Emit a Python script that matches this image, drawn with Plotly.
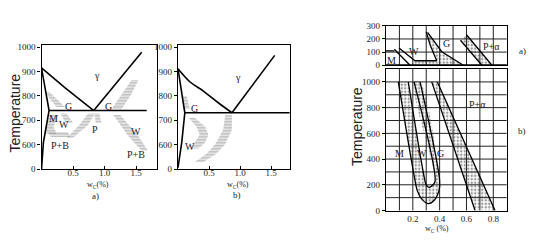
import plotly.graph_objects as go

W, H = 550, 252

# ---------------- panel a) data ----------------
a_A3_x = [0.0, 0.38, 0.83]
a_A3_y = [915, 832, 740]
a_Acm_x = [0.83, 1.59]
a_Acm_y = [740, 979]
a_A1_x = [0.12, 1.67]
a_A1_y = [740, 740]
a_left_x = [0.0, 0.12, 0.03, 0.0]
a_left_y = [915, 740, 609, 500]

# hatched bands: y levels, left edge x, right edge x
a_bands = [
    ([815, 785, 755], [0.06, 0.14, 0.24], [0.13, 0.25, 0.37]),
    ([865, 805, 745], [1.43, 1.27, 1.11], [1.54, 1.42, 1.27]),
    ([728, 681, 629], [0.74, 0.60, 0.40], [0.85, 0.74, 0.50]),
    ([722, 674, 645], [0.14, 0.06, 0.08], [0.27, 0.19, 0.24]),
    ([652, 632], [0.10, 0.15], [0.42, 0.45]),
    ([728, 690], [0.30, 0.38], [0.40, 0.50]),
    ([722, 635, 576], [1.14, 1.38, 1.59], [1.25, 1.54, 1.69]),
    ([728, 690], [0.84, 0.86], [0.92, 0.95]),
]
a_labels = [("γ", 0.88, 884), ("G", 0.43, 757), ("G", 1.06, 757), ("M", 0.19, 707),
            ("W", 0.35, 684), ("P", 0.85, 661), ("W", 1.5, 655), ("P+B", 0.29, 598),
            ("P+B", 1.5, 559)]

# ---------------- panel b) data ----------------
b_A3_x = [0.0, 0.19, 0.41, 0.65, 0.87]
b_A3_y = [911, 858, 820, 772, 731]
b_Acm_x = [0.87, 1.56]
b_Acm_y = [731, 966]
b_A1_x = [0.11, 1.8]
b_A1_y = [731, 731]
b_left_x = [0.0, 0.11, 0.06, 0.0]
b_left_y = [911, 731, 609, 506]
b_bands = [
    ([800, 746], [0.06, 0.085], [0.14, 0.19]),
    ([711, 674, 641, 609, 585], [0.17, 0.30, 0.35, 0.27, 0.19], [0.27, 0.44, 0.49, 0.44, 0.33]),
    ([722, 661, 602, 563, 530], [0.76, 0.73, 0.60, 0.46, 0.27], [0.87, 0.87, 0.76, 0.62, 0.41]),
]
b_labels = [("γ", 0.96, 877), ("G", 0.27, 750), ("W", 0.19, 593)]

# temperature ticks for a) and b) (broken axis: bottom is labelled 0)
ab_tickvals = [500, 600, 700, 800, 900, 1000]
ab_ticktext = ["0", "600", "700", "800", "900", "1000"]
ab_xticks = [0.5, 1.0, 1.5]
ab_xticktext = ["0.5", "1.0", "1.5"]

# ---------------- right panel data ----------------
t_Mtop_x = [0.0, 0.062]
t_Mtop_y = [110, 110]
t_D1_x = [0.062, 0.179]
t_D1_y = [122, 0]
t_D2_x = [0.097, 0.216, 0.378]
t_D2_y = [132, 34, 34]
t_Gl_x = [0.30, 0.33, 0.378]
t_Gl_y = [254, 152, 34]
t_Gr_x = [0.31, 0.416, 0.577]
t_Gr_y = [250, 103, 0]
t_Pl_x = [0.555, 0.715]
t_Pl_y = [190, 0]
t_Pr_x = [0.60, 0.79]
t_Pr_y = [232, 0]
t_labels = [("M", 0.043, 34), ("W", 0.21, 103), ("G", 0.45, 164), ("P+α", 0.79, 140)]

u_out_x = [0.092, 0.21, 0.235, 0.27, 0.316, 0.36, 0.395, 0.40, 0.254]
u_out_y = [1000, 270, 150, 85, 54, 80, 154, 230, 1000]
u_in_x = [0.166, 0.285, 0.30, 0.323, 0.35, 0.366, 0.209]
u_in_y = [1000, 260, 200, 179, 200, 229, 1000]
r_l_x = [0.341, 0.664]
r_l_y = [1000, 0]
r_r_x = [0.383, 0.813]
r_r_y = [1000, 0]
u_labels = [("M", 0.104, 440), ("W", 0.266, 440), ("G", 0.41, 440), ("P+α", 0.68, 826)]

fig = go.Figure()

def px_x(p):
    return p / W

def px_y(p):
    return 1 - p / H

HATCH = dict(shape="-", size=3, solidity=0.6, fgcolor="#6e6e6e", bgcolor="rgba(0,0,0,0)")
DOTS = dict(shape=".", size=3.5, solidity=0.4, fgcolor="#333", bgcolor="rgba(0,0,0,0)")

def line(x, y, xa, ya, shape="linear", w=1.6):
    fig.add_trace(go.Scatter(x=x, y=y, mode="lines", xaxis=xa, yaxis=ya,
                             line=dict(color="black", width=w, shape=shape),
                             showlegend=False, hoverinfo="skip"))

def band(ys, xl, xr, xa, ya):
    x = list(xl) + list(xr)[::-1] + [xl[0]]
    y = list(ys) + list(ys)[::-1] + [ys[0]]
    fig.add_trace(go.Scatter(x=x, y=y, mode="lines", fill="toself", xaxis=xa, yaxis=ya,
                             line=dict(width=0, color="rgba(0,0,0,0)"),
                             fillcolor="rgba(0,0,0,0)", fillpattern=HATCH,
                             showlegend=False, hoverinfo="skip"))

def dotted(x, y, xa, ya, shape="linear"):
    fig.add_trace(go.Scatter(x=x, y=y, mode="lines", fill="toself", xaxis=xa, yaxis=ya,
                             line=dict(width=0, color="rgba(0,0,0,0)", shape=shape),
                             fillcolor="rgba(0,0,0,0)", fillpattern=DOTS,
                             showlegend=False, hoverinfo="skip"))

# panel a
for ys, xl, xr in a_bands:
    band(ys, xl, xr, "x", "y")
line(a_A3_x, a_A3_y, "x", "y")
line(a_Acm_x, a_Acm_y, "x", "y")
line(a_A1_x, a_A1_y, "x", "y")
line(a_left_x, a_left_y, "x", "y")

# panel b
for ys, xl, xr in b_bands:
    band(ys, xl, xr, "x2", "y2")
line(b_A3_x, b_A3_y, "x2", "y2", shape="spline")
line(b_Acm_x, b_Acm_y, "x2", "y2")
line(b_A1_x, b_A1_y, "x2", "y2")
line(b_left_x, b_left_y, "x2", "y2")

# right top: one dotted region from the M/W lines to the G lines, one for P+alpha
dotted([t_D1_x[1]] + t_D2_x[1:] + t_Gl_x[::-1] + t_Gr_x,
       [t_D1_y[1]] + t_D2_y[1:] + t_Gl_y[::-1] + t_Gr_y, "x3", "y3")
dotted(t_Pl_x + t_Pr_x[::-1], t_Pl_y + t_Pr_y[::-1], "x3", "y3")
for xs, ys in [(t_Mtop_x, t_Mtop_y), (t_D1_x, t_D1_y), (t_D2_x, t_D2_y), (t_Gl_x, t_Gl_y),
               (t_Gr_x, t_Gr_y), (t_Pl_x, t_Pl_y), (t_Pr_x, t_Pr_y)]:
    line(xs, ys, "x3", "y3", w=1.3)

# right bottom
dotted(u_out_x + u_in_x[::-1], u_out_y + u_in_y[::-1], "x4", "y4", shape="spline")
dotted(r_l_x + r_r_x[::-1], r_l_y + r_r_y[::-1], "x4", "y4")
line(u_out_x, u_out_y, "x4", "y4", shape="spline", w=1.3)
line(u_in_x, u_in_y, "x4", "y4", shape="spline", w=1.3)
line(r_l_x, r_l_y, "x4", "y4", w=1.3)
line(r_r_x, r_r_y, "x4", "y4", w=1.3)

SERIF = "Liberation Serif, Times New Roman, serif"
TICKF = dict(family=SERIF, size=9, color="#222")
LABF = dict(family=SERIF, size=10, color="#222")

ann = []
for ref, labels in [(("x", "y"), a_labels), (("x2", "y2"), b_labels),
                    (("x3", "y3"), t_labels), (("x4", "y4"), u_labels)]:
    for t, x, y in labels:
        ann.append(dict(text=t, x=x, y=y, xref=ref[0], yref=ref[1], showarrow=False, font=LABF))

def paper_text(t, x, y, size=9, angle=0, family=SERIF):
    ann.append(dict(text=t, x=px_x(x), y=px_y(y), xref="paper", yref="paper", showarrow=False,
                    textangle=angle, xanchor="center", yanchor="middle",
                    font=dict(family=family, size=size, color="#222")))

SANS = "Liberation Sans, Arial, sans-serif"
paper_text("Temperature", 15, 113, size=14, angle=-90, family=SANS)
paper_text("Temperature", 357, 127, size=14, angle=-90, family=SANS)
paper_text("w<sub>C</sub>(%)", 98, 187, size=8)
paper_text("w<sub>C</sub>(%)", 238, 187, size=8)
paper_text("w<sub>C</sub> (%)", 437, 233, size=8)
paper_text("a)", 95, 199)
paper_text("b)", 237, 198)
paper_text("a)", 522, 48)
paper_text("b)", 522, 131)

AXC = dict(showline=True, linecolor="black", linewidth=1.3, mirror=True, showgrid=False,
           zeroline=False, tickfont=TICKF, ticklen=3, tickcolor="black", fixedrange=True)

layout = dict(
    width=W, height=H, margin=dict(l=0, r=0, t=0, b=0),
    paper_bgcolor="white", plot_bgcolor="white", showlegend=False,
    annotations=ann,
    xaxis=dict(**AXC, domain=[px_x(41.5), px_x(157)], range=[0, (157 - 41.5) / 63], anchor="y",
               tickvals=ab_xticks, ticktext=ab_xticktext, ticks="inside", ticklabelstandoff=-5),
    yaxis=dict(**AXC, domain=[px_y(171), px_y(42)], range=[500, 1007], anchor="x",
               tickvals=ab_tickvals, ticktext=ab_ticktext, ticks="outside"),
    xaxis2=dict(**AXC, domain=[px_x(178), px_x(290)], range=[0, (290 - 178) / 62], anchor="y2",
                tickvals=ab_xticks, ticktext=ab_xticktext, ticks="inside", ticklabelstandoff=-5),
    yaxis2=dict(**AXC, domain=[px_y(171), px_y(42)], range=[500, 1007], anchor="x2",
                tickvals=ab_tickvals, ticktext=ab_ticktext, ticks="outside"),
    xaxis3=dict(**AXC, domain=[px_x(386), px_x(506.7)], range=[0, 0.9], anchor="y3",
                showticklabels=False, ticks=""),
    yaxis3=dict(**AXC, domain=[px_y(62.7), px_y(21.7)], range=[0, 300], anchor="x3",
                tickvals=[0, 100, 200, 300], ticks="outside"),
    xaxis4=dict(**AXC, domain=[px_x(386), px_x(506.7)], range=[0, 0.9], anchor="y4",
                tickvals=[0.2, 0.4, 0.6, 0.8], ticktext=["0.2", "0.4", "0.6", "0.8"], ticks=""),
    yaxis4=dict(**AXC, domain=[px_y(214), px_y(66.7)], range=[0, 1100], anchor="x4",
                tickvals=[0, 200, 400, 600, 800, 1000], ticks="outside"),
)
fig.update_layout(**layout)

# grids of the right-hand panels (every 0.1 %C and every 100 degrees)
GRIDLINE = dict(color="#222", width=1)
for k in range(1, 11):
    fig.add_shape(type="line", xref="x4 domain", yref="y4", x0=0, x1=1, y0=k * 100, y1=k * 100,
                  line=GRIDLINE, layer="below")
for k in range(1, 3):
    fig.add_shape(type="line", xref="x3 domain", yref="y3", x0=0, x1=1, y0=k * 100, y1=k * 100,
                  line=GRIDLINE, layer="below")
for k in range(1, 9):
    for xa, ya in [("x4", "y4 domain"), ("x3", "y3 domain")]:
        fig.add_shape(type="line", xref=xa, yref=ya, x0=k * 0.1, x1=k * 0.1, y0=0, y1=1,
                      line=GRIDLINE, layer="below")
# thick zero line of the upper panel
fig.add_shape(type="line", xref="x3 domain", yref="y3", x0=0, x1=1, y0=0, y1=0,
              line=dict(color="black", width=2))

fig.write_html("out.html")
